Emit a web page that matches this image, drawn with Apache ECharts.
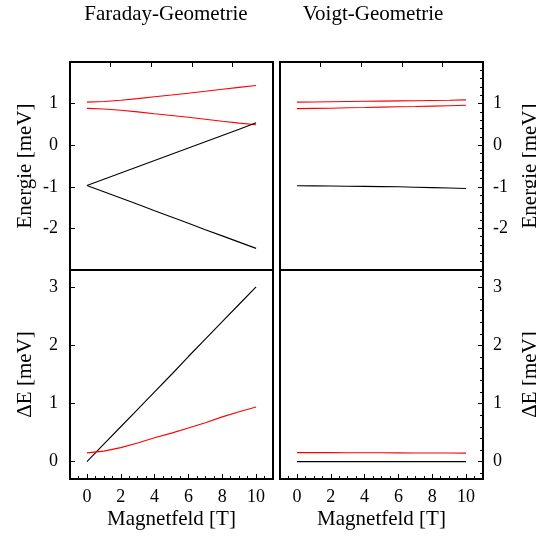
<!DOCTYPE html>
<html>
<head>
<meta charset="utf-8">
<script src="https://cdn.jsdelivr.net/npm/echarts@6/dist/echarts.min.js"></script>
<style>
html,body{margin:0;padding:0;background:#fff;}
#c{width:536px;height:537px;}
</style>
</head>
<body>
<div id="c"></div>
<script>
// ---- data ----
const fieldB = [0,1,2,3,4,5,6,7,8,9,10];
// Faraday geometry, energies [meV]
const faradayRedUpper   = [1.035,1.05,1.08,1.12,1.165,1.205,1.25,1.295,1.345,1.39,1.435];
const faradayRedLower   = [0.885,0.87,0.84,0.80,0.755,0.715,0.67,0.625,0.575,0.53,0.49];
const faradayBlackUpper = [-0.97,-0.82,-0.67,-0.52,-0.37,-0.215,-0.065,0.085,0.235,0.385,0.54];
const faradayBlackLower = [-0.97,-1.12,-1.27,-1.42,-1.575,-1.725,-1.875,-2.03,-2.18,-2.33,-2.48];
// Voigt geometry, energies [meV]
const voigtRedUpper = [1.035,1.04,1.045,1.05,1.055,1.06,1.065,1.07,1.075,1.08,1.09];
const voigtRedLower = [0.88,0.885,0.89,0.90,0.905,0.915,0.925,0.93,0.94,0.95,0.96];
const voigtBlack    = [-0.975,-0.977,-0.98,-0.985,-0.99,-0.995,-1.0,-1.01,-1.02,-1.03,-1.04];
// Splittings dE [meV]
const faradayDeltaBlack = [0,0.30,0.60,0.90,1.20,1.50,1.81,2.11,2.41,2.71,3.01];
const faradayDeltaRed   = [0.15,0.18,0.24,0.32,0.41,0.49,0.58,0.67,0.77,0.86,0.94];
const voigtDeltaRed     = [0.155,0.155,0.154,0.153,0.152,0.151,0.15,0.149,0.148,0.147,0.146];
const voigtDeltaBlack   = [0,0,0,0,0,0,0,0,0,0,0];
// tick labels
const xTickLabels = [0,2,4,6,8,10];
const xMinorTicks = [-0.5,0.5,1,1.5,2.5,3,3.5,4.5,5,5.5,6.5,7,7.5,8.5,9,9.5,10.5];
const energyTicks = [-2,-1,0,1];
const energyMinorTicks = [-2.8,-2.6,-2.4,-2.2,-1.8,-1.6,-1.4,-1.2,-0.8,-0.6,-0.4,-0.2,0.2,0.4,0.6,0.8,1.2,1.4,1.6,1.8];
const deltaTicks = [0,1,2,3];
const deltaMinorTicks = [-0.2,0.2,0.4,0.6,0.8,1.2,1.4,1.6,1.8,2.2,2.4,2.6,2.8,3.2];
const topTicks = [1,2,3,4];
const titles = ['Faraday-Geometrie','Voigt-Geometrie'];
const xName = 'Magnetfeld [T]';
const energyName = 'Energie [meV]';
const deltaName = '\u0394E [meV]';

// ---- chart ----
const FONT = 'Liberation Serif';
const chart = echarts.init(document.getElementById('c'), null, {renderer:'canvas'});
const pairs = ys => fieldB.map((b,i)=>[b, ys[i]]);

const gridBase = {show:true, borderColor:'#000', borderWidth:2, backgroundColor:'transparent', outerBoundsMode:'none', containLabel:false};
const grids = [
  Object.assign({left:70, top:62, width:203, height:208}, gridBase),
  Object.assign({left:280, top:62, width:203, height:208}, gridBase),
  Object.assign({left:70, top:270, width:203, height:209}, gridBase),
  Object.assign({left:280, top:270, width:203, height:209}, gridBase)
];

const noLine = {show:false, onZero:false};
function hiddenX(g){
  return {type:'value', gridIndex:g, min:-1, max:11, position:'bottom', axisLine:noLine, axisTick:{show:false}, axisLabel:{show:false}, splitLine:{show:false}};
}
function topX(g){
  return {type:'value', gridIndex:g, min:0, max:5, position:'top', axisLine:noLine,
    axisTick:{show:true, inside:true, length:5, customValues:topTicks, lineStyle:{color:'#000', width:1}},
    axisLabel:{show:false}, splitLine:{show:false}};
}
function mainX(g){
  return {type:'value', gridIndex:g, min:-1, max:11, position:'bottom', axisLine:noLine,
    axisTick:{show:true, inside:true, length:5, customValues:xTickLabels, lineStyle:{color:'#000', width:1}},
    axisLabel:{show:true, customValues:xTickLabels, margin:9, color:'#000', fontFamily:FONT, fontSize:18},
    splitLine:{show:false},
    name:xName, nameLocation:'middle', nameGap:30, nameTextStyle:{color:'#000', fontFamily:FONT, fontSize:21}};
}
function minorX(g){
  return {type:'value', gridIndex:g, min:-1, max:11, position:'bottom', axisLine:noLine,
    axisTick:{show:true, inside:true, length:3, customValues:xMinorTicks, lineStyle:{color:'#000', width:1}},
    axisLabel:{show:false}, splitLine:{show:false}};
}
function yAx(g, min, max, ticks, pos, name, gap){
  return {type:'value', gridIndex:g, min:min, max:max, position:pos, axisLine:noLine,
    axisTick:{show:true, inside:true, length:5, customValues:ticks, lineStyle:{color:'#000', width:1}},
    axisLabel:{show:true, customValues:ticks, margin: pos==='left'?12:10, color:'#000', fontFamily:FONT, fontSize:18},
    splitLine:{show:false},
    name:name, nameLocation:'middle', nameRotate:90, nameGap:gap, nameTextStyle:{color:'#000', fontFamily:FONT, fontSize:21}};
}
function yMinor(g, min, max, ticks, pos){
  return {type:'value', gridIndex:g, min:min, max:max, position:pos, axisLine:noLine,
    axisTick:{show:true, inside:true, length:3, customValues:ticks, lineStyle:{color:'#000', width:1}},
    axisLabel:{show:false}, splitLine:{show:false}};
}

const xAxes = [
  hiddenX(0), topX(0),          // 0,1
  hiddenX(1), topX(1),          // 2,3
  mainX(2), minorX(2),          // 4,5
  mainX(3), minorX(3)           // 6,7
];
const yAxes = [
  yAx(0, -3, 2, energyTicks, 'left', energyName, 34),          // 0
  yAx(1, -3, 2, energyTicks, 'right', energyName, 37),         // 1
  yMinor(1, -3, 2, energyMinorTicks, 'right'),                 // 2
  yAx(2, -0.3, 3.3, deltaTicks, 'left', deltaName, 34),        // 3
  yAx(3, -0.3, 3.3, deltaTicks, 'right', deltaName, 37),       // 4
  yMinor(3, -0.3, 3.3, deltaMinorTicks, 'right')               // 5
];

function line(xi, yi, ys, color){
  return {type:'line', xAxisIndex:xi, yAxisIndex:yi, data:pairs(ys), showSymbol:false, symbol:'none',
    smooth:false, lineStyle:{color:color, width:1.1}, itemStyle:{color:color}, silent:true, animation:false};
}

const series = [
  line(0,0,faradayRedUpper,'#ff0000'),
  line(0,0,faradayRedLower,'#ff0000'),
  line(0,0,faradayBlackUpper,'#000000'),
  line(0,0,faradayBlackLower,'#000000'),
  line(2,1,voigtRedUpper,'#ff0000'),
  line(2,1,voigtRedLower,'#ff0000'),
  line(2,1,voigtBlack,'#000000'),
  line(4,3,faradayDeltaBlack,'#000000'),
  line(4,3,faradayDeltaRed,'#ff0000'),
  line(6,4,voigtDeltaRed,'#ff0000'),
  line(6,4,voigtDeltaBlack,'#000000')
];

chart.setOption({
  animation:false,
  backgroundColor:'#fff',
  grid:grids,
  xAxis:xAxes,
  yAxis:yAxes,
  series:series,
  graphic:[
    {type:'text', x:166, y:4, style:{text:titles[0], fill:'#000', font:'21px "Liberation Serif"', textAlign:'center', textVerticalAlign:'top'}},
    {type:'text', x:373, y:4, style:{text:titles[1], fill:'#000', font:'21px "Liberation Serif"', textAlign:'center', textVerticalAlign:'top'}}
  ]
});
</script>
</body>
</html>
